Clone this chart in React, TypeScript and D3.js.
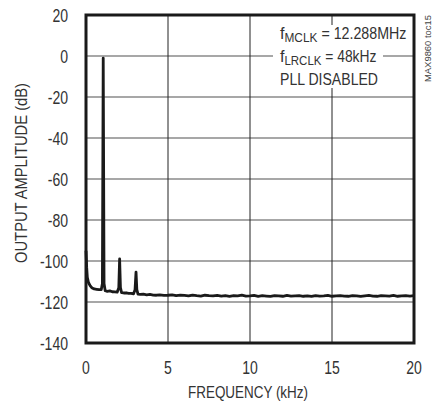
import React from "react";
import * as d3 from "d3";

const X_TICKS = [0, 5, 10, 15, 20];
const Y_TICKS = [20, 0, -20, -40, -60, -80, -100, -120, -140];

const FREQ_KHZ = [
  0, 0.04, 0.08, 0.15, 0.25, 0.35, 0.5, 0.65, 0.8, 0.93, 1.0, 1.05, 1.1, 1.17,
  1.3, 1.45, 1.6, 1.75, 1.9, 2.0, 2.05, 2.1, 2.17, 2.3, 2.45, 2.6, 2.75, 2.9,
  2.99, 3.05, 3.1, 3.17, 3.3, 3.5, 3.7, 3.9, 4.1, 4.3, 4.5, 4.75,
  5.0, 5.25, 5.5, 5.75, 6.0, 6.25, 6.5, 6.75, 7.0, 7.25, 7.5, 7.75,
  8.0, 8.25, 8.5, 8.75, 9.0, 9.25, 9.5, 9.75, 10.0, 10.25, 10.5, 10.75,
  11.0, 11.25, 11.5, 11.75, 12.0, 12.25, 12.5, 12.75, 13.0, 13.25, 13.5, 13.75,
  14.0, 14.25, 14.5, 14.75, 15.0, 15.25, 15.5, 15.75, 16.0, 16.25, 16.5, 16.75,
  17.0, 17.25, 17.5, 17.75, 18.0, 18.25, 18.5, 18.75, 19.0, 19.25, 19.5, 19.75, 20.0,
];

const AMPLITUDE_DB = [
  -95, -103, -108, -110.5, -112, -113, -113.6, -113.8, -114, -114, -111, -1, -111, -114.5,
  -114.8, -114.6, -115, -115.1, -115.2, -113, -99, -113, -115.4, -115.6, -115.5, -115.8, -115.8, -116,
  -114, -105.4, -114, -116.2, -116.3, -116.2, -116.5, -116.3, -116.6, -116.7, -116.5, -116.8,
  -116.7, -116.5, -116.9, -116.6, -116.8, -117.0, -116.6, -116.9, -117.1, -116.7, -116.9, -117.0,
  -116.8, -117.1, -116.9, -117.2, -116.9, -117.0, -116.7, -117.1, -117.0, -116.8, -117.2, -116.9,
  -117.1, -117.3, -116.9, -117.0, -117.2, -116.8, -117.1, -117.0, -116.9, -117.2, -117.0, -117.3,
  -116.9, -117.1, -117.0, -116.8, -117.2, -117.0, -116.9, -117.1, -117.2, -116.9, -117.0, -117.3,
  -117.0, -116.8, -117.1, -117.2, -116.9, -117.0, -117.1, -116.8, -117.2, -117.0, -116.9, -117.1, -116.9,
];

const FONT = "'Liberation Sans', Arial, sans-serif";
const SX = 0.78;

export default function App() {
  const W = 432;
  const H = 406;
  const left = 86, right = 414, top = 15, bottom = 343;
  const x = d3.scaleLinear().domain([0, 20]).range([left, right]);
  const y = d3.scaleLinear().domain([-140, 20]).range([bottom, top]);
  const pts: [number, number][] = FREQ_KHZ.map((f, i) => [f, AMPLITUDE_DB[i]]);
  const line = d3
    .line<[number, number]>()
    .x((d) => x(d[0]))
    .y((d) => y(d[1]));

  return (
    <svg
      width={W}
      height={H}
      style={{ position: "absolute", left: 0, top: 0, background: "#fff" }}
      fontFamily={FONT}
    >
      <rect x={0} y={0} width={W} height={H} fill="#fff" />
      {Y_TICKS.filter((t) => t !== 20 && t !== -140).map((t) => (
        <line key={"h" + t} x1={left} x2={right} y1={y(t)} y2={y(t)} stroke="#8a8a8a" strokeWidth={1.5} />
      ))}
      {X_TICKS.filter((t) => t !== 0 && t !== 20).map((t) => (
        <line key={"v" + t} x1={x(t)} x2={x(t)} y1={top} y2={bottom} stroke="#222" strokeWidth={1} />
      ))}
      <rect x={273} y={25} width={110} height={63} fill="#fff" />
      <path d={line(pts) || ""} fill="none" stroke="#1a1a1a" strokeWidth={2.8} strokeLinejoin="round" />
      <rect x={left} y={top} width={right - left} height={bottom - top} fill="none" stroke="#1a1a1a" strokeWidth={3} />
      {Y_TICKS.map((t) => (
        <text
          key={"yl" + t}
          transform={`translate(68,${y(t) + 6.5}) scale(${SX},1)`}
          textAnchor="end"
          fontSize={18}
          fill="#333"
        >
          {t}
        </text>
      ))}
      {X_TICKS.map((t) => (
        <text
          key={"xl" + t}
          transform={`translate(${x(t)},374) scale(${SX},1)`}
          textAnchor="middle"
          fontSize={18}
          fill="#333"
        >
          {t}
        </text>
      ))}
      <text x={188} y={398} fontSize={16} fill="#333" textLength={120} lengthAdjust="spacingAndGlyphs">
        FREQUENCY (kHz)
      </text>
      <text
        transform={`translate(27,263) rotate(-90)`}
        fontSize={16.5}
        fill="#333"
        textLength={180}
        lengthAdjust="spacingAndGlyphs"
      >
        OUTPUT AMPLITUDE (dB)
      </text>
      <text x={280} y={39} fontSize={16} fill="#333">
        f<tspan fontSize={13} dy={3} textLength={33} lengthAdjust="spacingAndGlyphs">MCLK</tspan>
        <tspan dy={-3} textLength={89} lengthAdjust="spacingAndGlyphs"> = 12.288MHz</tspan>
      </text>
      <text x={280} y={62} fontSize={16} fill="#333">
        f<tspan fontSize={13} dy={3} textLength={37} lengthAdjust="spacingAndGlyphs">LRCLK</tspan>
        <tspan dy={-3} textLength={55} lengthAdjust="spacingAndGlyphs"> = 48kHz</tspan>
      </text>
      <text x={280} y={85} fontSize={16} fill="#333" textLength={98} lengthAdjust="spacingAndGlyphs">
        PLL DISABLED
      </text>
      <text
        transform={`translate(431,82) rotate(-90)`}
        fontSize={9.5}
        fill="#444"
        textLength={67}
        lengthAdjust="spacingAndGlyphs"
      >
        MAX9860 toc15
      </text>
    </svg>
  );
}
